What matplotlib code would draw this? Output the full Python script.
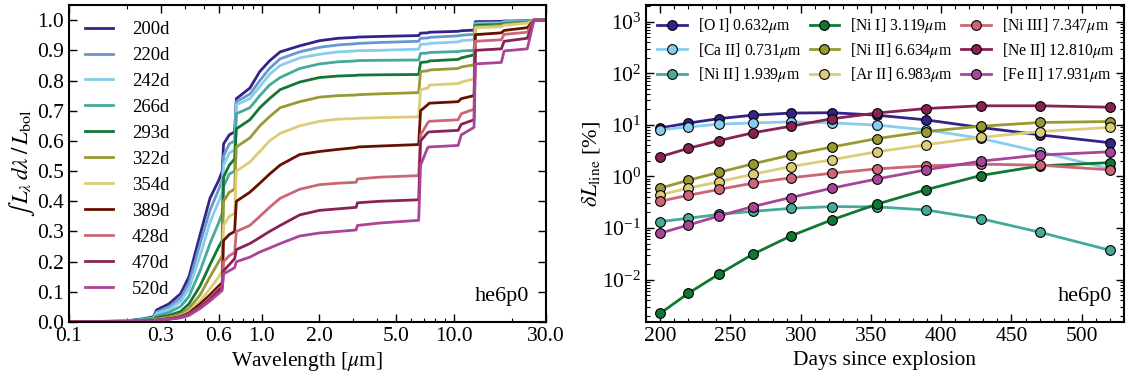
import numpy as np
import matplotlib
matplotlib.use("Agg")
import matplotlib.pyplot as plt
from matplotlib.ticker import FixedLocator, FixedFormatter, LogLocator, MultipleLocator, NullFormatter

plt.rcParams['font.family'] = ['Liberation Serif', 'DejaVu Serif']
plt.rcParams['mathtext.fontset'] = 'stix'
plt.rcParams['xtick.direction'] = 'in'
plt.rcParams['ytick.direction'] = 'in'
plt.rcParams['xtick.top'] = True
plt.rcParams['ytick.right'] = True

# ---- left panel: cumulative luminosity vs wavelength ----
wave = [0.10, 0.20, 0.25, 0.275, 0.285, 0.33, 0.38, 0.42, 0.48, 0.54, 0.60, 0.625, 0.635,
        0.68, 0.725, 0.74, 0.87, 0.98, 1.1, 1.25, 1.58, 2.0, 2.5, 3.1, 3.15, 4.1, 6.55,
        6.7, 7.3, 7.45, 10.5, 10.9, 12.7, 12.9, 17.6, 18.2, 24.0, 26.0, 30.0]

epochs = ['200d', '220d', '242d', '266d', '293d', '322d', '354d', '389d', '428d', '470d', '520d']

cum_200 = [0, 0.004, 0.012, 0.018, 0.04, 0.06, 0.094, 0.15, 0.29, 0.41, 0.47, 0.50, 0.59,
           0.62, 0.63, 0.74, 0.775, 0.83, 0.865, 0.895, 0.915, 0.932, 0.94, 0.943, 0.944, 0.946, 0.949,
           0.957, 0.958, 0.96, 0.963, 0.965, 0.967, 0.995, 0.996, 0.997, 0.998, 1.0, 1.0]
cum_220 = [0, 0.003, 0.01, 0.015, 0.033, 0.05, 0.08, 0.13, 0.26, 0.37, 0.44, 0.47, 0.55,
           0.59, 0.60, 0.73, 0.755, 0.80, 0.84, 0.872, 0.895, 0.91, 0.918, 0.922, 0.923, 0.926, 0.93,
           0.94, 0.941, 0.943, 0.948, 0.95, 0.953, 0.99, 0.992, 0.995, 0.997, 1.0, 1.0]
cum_242 = [0, 0.003, 0.009, 0.013, 0.028, 0.042, 0.068, 0.11, 0.22, 0.33, 0.40, 0.43, 0.52,
           0.56, 0.57, 0.72, 0.74, 0.78, 0.82, 0.85, 0.875, 0.887, 0.895, 0.898, 0.899, 0.9, 0.904,
           0.92, 0.921, 0.923, 0.928, 0.932, 0.935, 0.988, 0.99, 0.993, 0.996, 1.0, 1.0]
cum_266 = [0, 0.003, 0.008, 0.011, 0.02, 0.032, 0.052, 0.085, 0.17, 0.26, 0.33, 0.36, 0.45,
           0.49, 0.50, 0.69, 0.71, 0.75, 0.785, 0.81, 0.84, 0.855, 0.862, 0.865, 0.866, 0.867, 0.868,
           0.89, 0.891, 0.893, 0.896, 0.898, 0.9, 0.985, 0.988, 0.99, 0.995, 1.0, 1.0]
cum_293 = [0, 0.002, 0.006, 0.008, 0.014, 0.022, 0.035, 0.06, 0.12, 0.19, 0.25, 0.27, 0.48,
           0.52, 0.54, 0.64, 0.67, 0.71, 0.74, 0.77, 0.795, 0.81, 0.815, 0.817, 0.818, 0.819, 0.82,
           0.86, 0.862, 0.865, 0.87, 0.875, 0.885, 0.982, 0.985, 0.988, 0.993, 1.0, 1.0]
cum_322 = [0, 0.002, 0.005, 0.007, 0.01, 0.016, 0.026, 0.045, 0.09, 0.15, 0.20, 0.22, 0.40,
           0.43, 0.44, 0.58, 0.61, 0.65, 0.68, 0.71, 0.73, 0.745, 0.75, 0.752, 0.753, 0.756, 0.76,
           0.83, 0.832, 0.835, 0.84, 0.845, 0.852, 0.978, 0.982, 0.986, 0.992, 1.0, 1.0]
cum_354 = [0, 0.002, 0.004, 0.006, 0.008, 0.012, 0.02, 0.035, 0.07, 0.11, 0.15, 0.17, 0.32,
           0.35, 0.36, 0.50, 0.53, 0.565, 0.60, 0.625, 0.65, 0.665, 0.672, 0.674, 0.675, 0.677, 0.68,
           0.77, 0.775, 0.785, 0.79, 0.795, 0.805, 0.975, 0.978, 0.983, 0.99, 1.0, 1.0]
cum_389 = [0, 0.002, 0.004, 0.005, 0.007, 0.011, 0.018, 0.03, 0.06, 0.09, 0.12, 0.13, 0.27,
           0.29, 0.30, 0.40, 0.43, 0.46, 0.49, 0.52, 0.555, 0.565, 0.572, 0.578, 0.58, 0.583, 0.588,
           0.70, 0.72, 0.725, 0.73, 0.74, 0.75, 0.952, 0.958, 0.966, 0.975, 1.0, 1.0]
cum_428 = [0, 0.002, 0.003, 0.004, 0.006, 0.01, 0.016, 0.027, 0.05, 0.08, 0.11, 0.12, 0.20,
           0.22, 0.23, 0.30, 0.32, 0.35, 0.38, 0.41, 0.44, 0.455, 0.46, 0.463, 0.474, 0.48, 0.485,
           0.62, 0.66, 0.665, 0.67, 0.69, 0.705, 0.93, 0.935, 0.953, 0.96, 1.0, 1.0]
cum_470 = [0, 0.002, 0.003, 0.004, 0.006, 0.01, 0.015, 0.025, 0.048, 0.075, 0.105, 0.115, 0.17,
           0.19, 0.21, 0.24, 0.26, 0.28, 0.30, 0.32, 0.355, 0.37, 0.375, 0.38, 0.395, 0.40, 0.405,
           0.60, 0.628, 0.63, 0.635, 0.655, 0.67, 0.90, 0.905, 0.93, 0.94, 1.0, 1.0]
cum_520 = [0, 0.002, 0.003, 0.004, 0.006, 0.009, 0.014, 0.022, 0.045, 0.07, 0.095, 0.105, 0.16,
           0.17, 0.18, 0.20, 0.215, 0.232, 0.245, 0.26, 0.285, 0.295, 0.30, 0.305, 0.32, 0.328, 0.337,
           0.52, 0.578, 0.58, 0.585, 0.62, 0.645, 0.855, 0.86, 0.898, 0.905, 1.0, 1.0]

cum_all = [cum_200, cum_220, cum_242, cum_266, cum_293, cum_322, cum_354, cum_389, cum_428, cum_470, cum_520]

epoch_colors = ['#332288', '#6699CC', '#88CCEE', '#44AA99', '#117733', '#999933',
                '#DDCC77', '#661100', '#CC6677', '#882255', '#AA4499']

# ---- right panel: line contributions vs time ----
days = [200, 220, 242, 266, 293, 322, 354, 389, 428, 470, 520]

line_labels = [r'[O I] 0.632$\mu$m', r'[Ca II] 0.731$\mu$m', r'[Ni II] 1.939$\mu$m',
               r'[Ni I] 3.119$\mu$m', r'[Ni II] 6.634$\mu$m', r'[Ar II] 6.983$\mu$m',
               r'[Ni III] 7.347$\mu$m', r'[Ne II] 12.810$\mu$m', r'[Fe II] 17.931$\mu$m']
line_colors = ['#332288', '#88CCEE', '#44AA99', '#117733', '#999933', '#DDCC77',
               '#CC6677', '#882255', '#AA4499']

oI_632 = [8.7, 10.8, 13.2, 15.4, 16.9, 17.2, 15.4, 12.5, 8.9, 6.4, 4.5]
caII_731 = [8.0, 9.1, 10.3, 10.9, 11.4, 10.9, 9.9, 8.0, 5.5, 3.0, 1.4]
niII_1939 = [0.133, 0.154, 0.184, 0.21, 0.24, 0.26, 0.257, 0.224, 0.152, 0.083, 0.037]
niI_3119 = [0.0022, 0.0054, 0.0128, 0.031, 0.07, 0.143, 0.288, 0.55, 1.04, 1.6, 1.85]
niII_6634 = [0.59, 0.84, 1.2, 1.75, 2.6, 3.7, 5.4, 7.4, 9.4, 11.1, 11.6]
arII_6983 = [0.44, 0.59, 0.79, 1.1, 1.55, 2.1, 3.0, 4.1, 5.7, 7.4, 8.9]
niIII_7347 = [0.33, 0.43, 0.56, 0.74, 0.94, 1.15, 1.4, 1.6, 1.73, 1.65, 1.34]
neII_12810 = [2.4, 3.5, 4.95, 7.0, 9.4, 13.1, 16.9, 20.7, 23.4, 23.4, 22.0]
feII_17931 = [0.079, 0.114, 0.171, 0.26, 0.39, 0.59, 0.89, 1.34, 1.97, 2.6, 3.0]

line_data = [oI_632, caII_731, niII_1939, niI_3119, niII_6634, arII_6983,
             niIII_7347, neII_12810, feII_17931]

fig = plt.figure(figsize=(11.27, 3.78), dpi=100)
ax1 = fig.add_axes([0.0612, 0.148, 0.4232, 0.8386])
ax2 = fig.add_axes([0.5732, 0.148, 0.4241, 0.8386])

for ep, cum, col in zip(epochs, cum_all, epoch_colors):
    ax1.plot(wave, cum, color=col, lw=2, label=ep)
ax1.set_xscale('log')
ax1.set_xlim(0.1, 30.0)
ax1.set_ylim(0.0, 1.05)
xt = [0.1, 0.3, 0.6, 1.0, 2.0, 5.0, 10.0, 30.0]
ax1.xaxis.set_major_locator(FixedLocator(xt))
ax1.xaxis.set_major_formatter(FixedFormatter(['%.1f' % v for v in xt]))
ax1.xaxis.set_minor_locator(LogLocator(base=10, subs=np.arange(2, 10), numticks=20))
ax1.xaxis.set_minor_formatter(NullFormatter())
ax1.set_yticks(np.arange(0, 1.01, 0.1))
ax1.set_yticklabels(['%.1f' % v for v in np.arange(0, 1.01, 0.1)])
ax1.tick_params(which='major', length=6, width=1, labelsize=15.5)
ax1.tick_params(which='minor', length=3, width=0.8)
ax1.set_xlabel(r'Wavelength [$\mu$m]', fontsize=15.5, labelpad=3)
ax1.set_ylabel(r'$\int\, L_\lambda\, d\lambda\; /\, L_{\rm bol}$', fontsize=16.5, labelpad=0)
ax1.legend(loc='upper left', frameon=False, fontsize=13.5, handlelength=1.5,
           handletextpad=1.0, labelspacing=0.47, borderaxespad=0.55, borderpad=0.3)
ax1.text(0.965, 0.05, 'he6p0', transform=ax1.transAxes, ha='right', va='bottom', fontsize=16)
for s in ax1.spines.values():
    s.set_linewidth(1.5)

for lab, vals, col in zip(line_labels, line_data, line_colors):
    ax2.plot(days, vals, '-o', color=col, lw=2, ms=7, mec='black', mew=0.8, label=lab)
ax2.set_yscale('log')
ax2.set_xlim(190, 530)
ax2.set_ylim(1.5e-3, 2.1e3)
ax2.xaxis.set_major_locator(MultipleLocator(50))
ax2.xaxis.set_minor_locator(MultipleLocator(10))
ax2.yaxis.set_major_locator(LogLocator(base=10, numticks=10))
ax2.yaxis.set_minor_locator(LogLocator(base=10, subs=np.arange(2, 10), numticks=20))
ax2.yaxis.set_minor_formatter(NullFormatter())
ax2.tick_params(which='major', length=6, width=1, labelsize=15.5)
ax2.tick_params(which='minor', length=3, width=0.8)
ax2.set_xlabel('Days since explosion', fontsize=15.5, labelpad=4)
ax2.set_ylabel(r'$\delta L_{\rm line}$ [%]', fontsize=16, labelpad=0)
ax2.legend(loc='upper left', ncol=3, frameon=False, fontsize=11.3, handlelength=1.9,
           handletextpad=0.7, labelspacing=0.35, columnspacing=0.5, borderaxespad=0.4,
           borderpad=0.3)
ax2.text(0.975, 0.05, 'he6p0', transform=ax2.transAxes, ha='right', va='bottom', fontsize=16)
for s in ax2.spines.values():
    s.set_linewidth(1.5)

fig.savefig('out.png', dpi=100)
